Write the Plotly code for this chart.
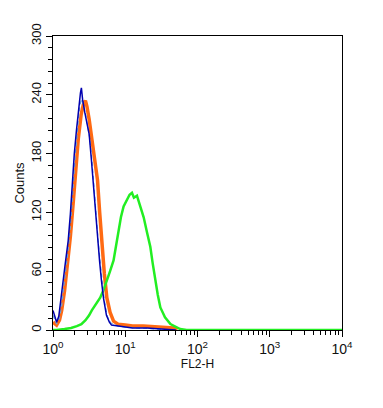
import plotly.graph_objects as go

# FL2-H positions (log10 of channel value) and counts
blue_log = [0.0, 0.02, 0.05, 0.08, 0.11, 0.14, 0.17, 0.21, 0.24, 0.265, 0.295, 0.325, 0.355, 0.38, 0.393,
            0.41, 0.44, 0.47, 0.50, 0.53, 0.556, 0.57, 0.595, 0.616, 0.645, 0.671, 0.70, 0.74, 0.78, 0.81,
            0.9, 0.98, 1.1, 1.3, 1.5, 1.7]
blue_counts = [20, 14, 8, 14, 30, 50, 68, 91, 118, 150, 180, 204, 228, 242, 247,
               235, 222, 212, 200, 175, 150, 133, 110, 91, 70, 50, 32, 15, 8, 5,
               4, 3, 2, 2, 1, 0]

lightblue_log = [0.0, 0.05, 0.09, 0.12, 0.155, 0.185, 0.225, 0.255, 0.28, 0.31, 0.34, 0.37, 0.395, 0.42,
                 0.45, 0.48, 0.51, 0.54, 0.565, 0.58, 0.605, 0.626, 0.655, 0.68, 0.71, 0.75, 0.8, 0.9,
                 1.0, 1.2, 1.5, 1.65]
lightblue_counts = [15, 6, 12, 25, 48, 68, 92, 120, 150, 180, 205, 228, 236, 230,
                    220, 208, 195, 172, 148, 130, 108, 90, 68, 48, 30, 14, 7, 4,
                    3, 2, 1, 0]

orange_log = [0.0, 0.05, 0.09, 0.12, 0.16, 0.2, 0.24, 0.28, 0.31, 0.35, 0.39, 0.42, 0.449, 0.47, 0.5,
              0.53, 0.56, 0.59, 0.616, 0.646, 0.676, 0.71, 0.745, 0.79, 0.838, 0.9, 1.0, 1.1, 1.25,
              1.4, 1.55, 1.67, 1.72]
orange_counts = [8, 5, 10, 20, 40, 65, 95, 130, 160, 195, 220, 230, 234, 228, 215,
                 200, 180, 165, 153, 120, 85, 58, 33, 18, 9, 6, 5, 4, 4,
                 3, 2, 2, 0]

green_log = [0.0, 0.05, 0.16, 0.25, 0.33, 0.393, 0.45, 0.5, 0.537, 0.6, 0.653, 0.7, 0.745, 0.79, 0.838,
             0.87, 0.907, 0.94, 0.977, 1.02, 1.06, 1.093, 1.12, 1.162, 1.2, 1.255, 1.3, 1.347, 1.38,
             1.417, 1.45, 1.486, 1.55, 1.625, 1.7, 1.76, 1.85, 4.0]
green_counts = [0, 0, 1, 2, 4, 6, 10, 15, 20, 27, 33, 41, 50, 60, 71,
                85, 102, 115, 126, 133, 138, 140, 135, 137, 128, 115, 100, 85, 68,
                50, 36, 23, 13, 6, 3, 1, 0, 0]

y_ticks = [0, 60, 120, 180, 240, 300]
x_tick_vals = [1, 10, 100, 1000, 10000]
x_tick_text = ["10<sup>0</sup>", "10<sup>1</sup>", "10<sup>2</sup>", "10<sup>3</sup>", "10<sup>4</sup>"]
x_minor = [m * 10 ** k for k in range(4) for m in range(2, 10)]

fig = go.Figure()
fig.add_trace(go.Scatter(x=[10 ** v for v in orange_log], y=orange_counts, mode="lines",
                         line=dict(color="#ff6a13", width=3.5), showlegend=False))
fig.add_trace(go.Scatter(x=[10 ** v for v in green_log], y=green_counts, mode="lines",
                         line=dict(color="#22ee22", width=2.5), showlegend=False))
fig.add_trace(go.Scatter(x=[10 ** v for v in lightblue_log], y=lightblue_counts, mode="lines",
                         line=dict(color="#6fa3d6", width=1.2, dash="4px,3px"), showlegend=False))
fig.add_trace(go.Scatter(x=[10 ** v for v in blue_log], y=blue_counts, mode="lines",
                         line=dict(color="#0000b0", width=1.5), showlegend=False))

font = "Liberation Sans, Arial, sans-serif"
fig.update_layout(
    width=383, height=408,
    margin=dict(l=53, r=41, t=36, b=78),
    paper_bgcolor="white", plot_bgcolor="white",
    font=dict(family=font, color="#111", size=12),
)
fig.update_xaxes(
    type="log", range=[0, 4], showgrid=False, zeroline=False, automargin=False,
    showline=True, linecolor="black", linewidth=1, mirror=True,
    tickvals=x_tick_vals, ticktext=x_tick_text, ticks="outside", ticklen=6,
    tickcolor="black", tickfont=dict(size=14),
    minor=dict(tickvals=x_minor, ticks="outside", ticklen=4, tickcolor="black"),
    title=dict(text="FL2-H", font=dict(size=12), standoff=0),
)
fig.update_yaxes(
    range=[0, 300], showgrid=False, zeroline=False, automargin=False,
    showline=True, linecolor="black", linewidth=1, mirror=True,
    tickvals=y_ticks, ticks="outside", ticklen=6, tickcolor="black",
    tickangle=-90, tickfont=dict(size=13),
    minor=dict(dtick=12, ticks="outside", ticklen=4, tickcolor="black"),
    title=dict(text="Counts", font=dict(size=13), standoff=1),
)
fig.write_html("out.html", config={"displayModeBar": False},
               post_script="document.body.style.margin='0';")
